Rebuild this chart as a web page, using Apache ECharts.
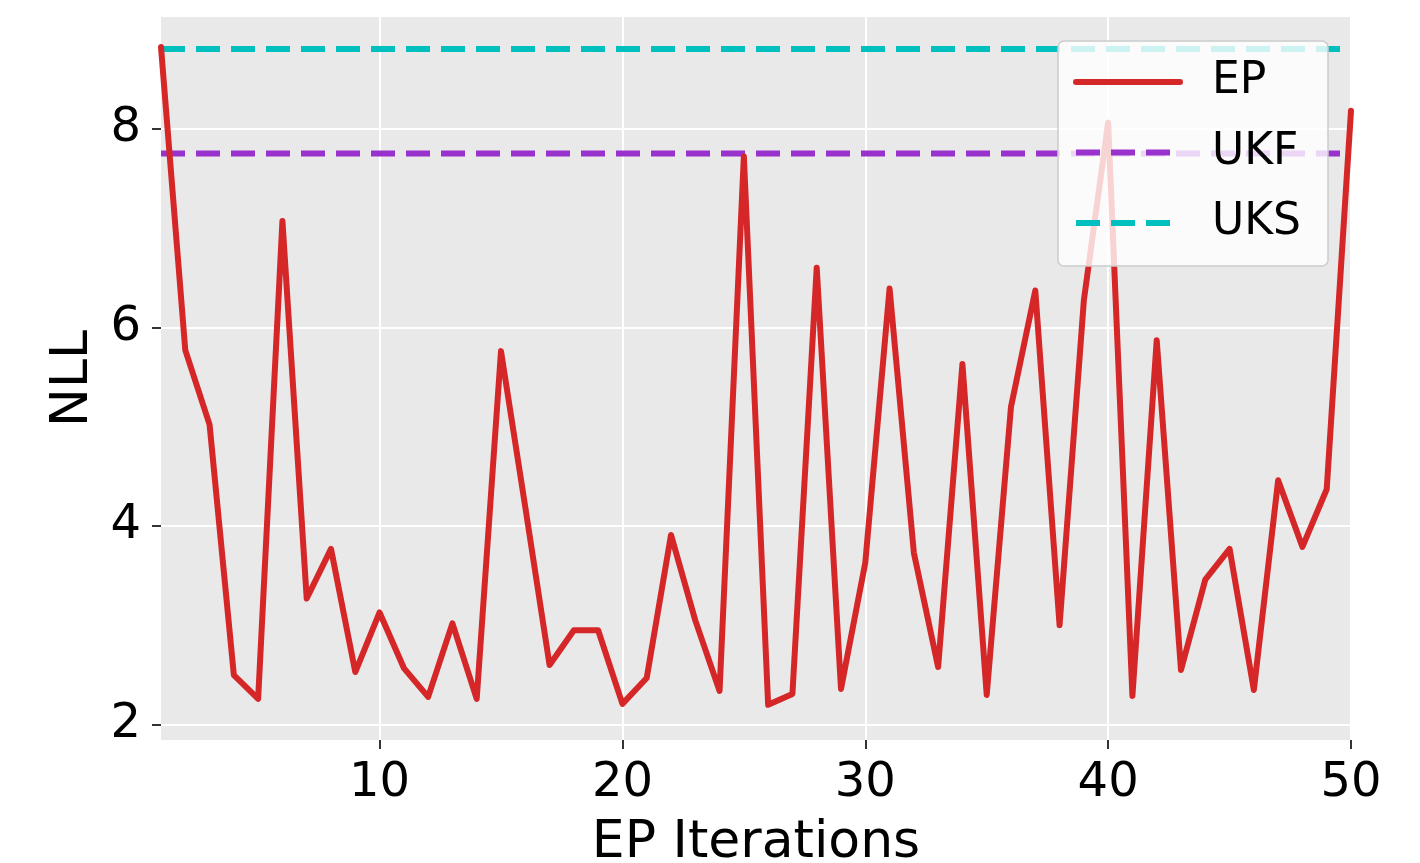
<!DOCTYPE html>
<html>
<head>
<meta charset="utf-8">
<title>NLL vs EP Iterations</title>
<script src="https://cdn.jsdelivr.net/npm/echarts@6/dist/echarts.min.js"></script>
<style>
  html, body { margin: 0; padding: 0; background: #ffffff; }
  #chart { width: 1420px; height: 863px; }
</style>
</head>
<body>
<div id="chart"></div>
<script>
// EP iterations 1..50
const iterations = Array.from({ length: 50 }, (_, i) => i + 1);

// Negative log-likelihood per EP iteration
const epNLL = [
  8.82, 5.77, 5.02, 2.50, 2.26, 7.07, 3.27, 3.77, 2.53, 3.13,
  2.57, 2.28, 3.02, 2.26, 5.76, 4.19, 2.60, 2.95, 2.95, 2.21,
  2.47, 3.91, 3.05, 2.34, 7.72, 2.20, 2.31, 6.60, 2.36, 3.63,
  6.39, 3.73, 2.58, 5.63, 2.30, 5.20, 6.37, 3.00, 6.27, 8.06,
  2.29, 5.87, 2.55, 3.46, 3.77, 2.35, 4.46, 3.79, 4.37, 8.18
];

// Constant baselines
const ukfNLL = 7.75;
const uksNLL = 8.80;

// Axis ticks
const xTicks = [10, 20, 30, 40, 50];
const yTicks = [2, 4, 6, 8];

const FONT = 'DejaVu Sans';
const DASH = [24, 11];
const LW = 6;

const colors = { EP: '#d62728', UKF: '#9932cc', UKS: '#00bfbf' };

const epData = iterations.map((x, i) => [x, epNLL[i]]);
const ukfData = [[1, ukfNLL], [50, ukfNLL]];
const uksData = [[1, uksNLL], [50, uksNLL]];

const chart = echarts.init(document.getElementById('chart'), null, { renderer: 'canvas' });

// legend entries: line sample only, no marker
const legendItem = (name, dashed) => ({
  name,
  itemStyle: { opacity: 0 },
  lineStyle: { color: colors[name], width: LW, type: dashed ? DASH : 'solid', opacity: 1 }
});

chart.setOption({
  animation: false,
  backgroundColor: '#ffffff',
  grid: {
    left: 161, right: 69, top: 17, bottom: 123,
    outerBoundsMode: 'none',
    containLabel: false,
    show: true, backgroundColor: '#e9e9e9', borderWidth: 0
  },
  xAxis: {
    type: 'value',
    min: 1, max: 50,
    name: 'EP Iterations',
    nameLocation: 'middle',
    nameGap: 77,
    nameTextStyle: { fontFamily: FONT, fontSize: 52, color: '#000' },
    axisLine: { show: false },
    axisTick: { show: true, length: 9, customValues: xTicks, lineStyle: { color: '#000', width: 1.6 } },
    axisLabel: { customValues: xTicks, margin: 20, fontFamily: FONT, fontSize: 48, color: '#000' },
    splitLine: { show: true, lineStyle: { color: '#ffffff', width: 2 } }
  },
  yAxis: {
    type: 'value',
    min: 1.846, max: 9.123,
    name: 'NLL',
    nameLocation: 'middle',
    nameGap: 56,
    nameTextStyle: { fontFamily: FONT, fontSize: 52, color: '#000' },
    axisLine: { show: false },
    axisTick: { show: true, length: 9, customValues: yTicks, lineStyle: { color: '#000', width: 1.6 } },
    axisLabel: { customValues: yTicks, margin: 20, fontFamily: FONT, fontSize: 48, color: '#000' },
    splitLine: { show: true, lineStyle: { color: '#ffffff', width: 2 } }
  },
  legend: {
    orient: 'vertical',
    left: 1058, top: 41,
    padding: [19, 27, 21, 15],
    itemWidth: 104,
    itemHeight: 44,
    itemGap: 26.5,
    backgroundColor: 'rgba(255,255,255,0.8)',
    borderColor: '#cccccc',
    borderWidth: 1.5,
    borderRadius: 6,
    textStyle: { fontFamily: FONT, fontSize: 44, color: '#000', padding: [0, 0, 0, 27] },
    data: [legendItem('EP', false), legendItem('UKF', true), legendItem('UKS', true)]
  },
  series: [
    {
      name: 'EP', type: 'line', data: epData,
      symbol: 'none', clip: true,
      lineStyle: { color: colors.EP, width: LW, cap: 'round', join: 'round' },
      itemStyle: { color: colors.EP },
      z: 3
    },
    {
      name: 'UKF', type: 'line', data: ukfData,
      symbol: 'none',
      lineStyle: { color: colors.UKF, width: LW, type: DASH },
      itemStyle: { color: colors.UKF },
      z: 2
    },
    {
      name: 'UKS', type: 'line', data: uksData,
      symbol: 'none',
      lineStyle: { color: colors.UKS, width: LW, type: DASH },
      itemStyle: { color: colors.UKS },
      z: 2
    }
  ]
});
</script>
</body>
</html>
